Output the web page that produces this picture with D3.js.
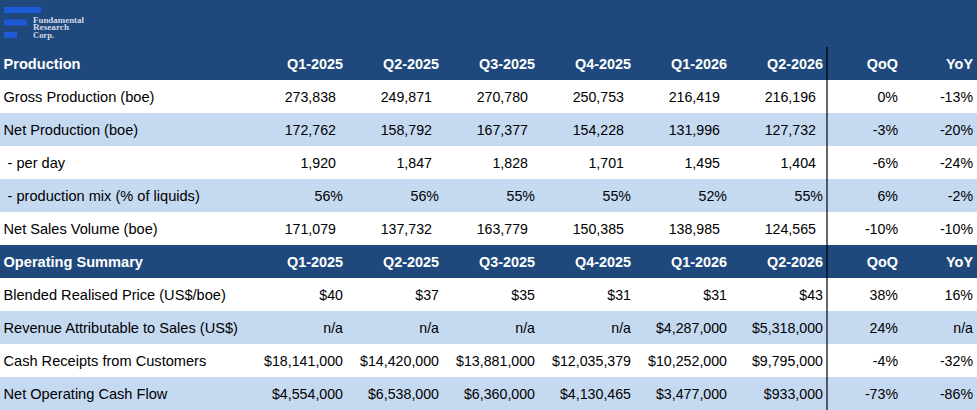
<!DOCTYPE html>
<html>
<head>
<meta charset="utf-8">
<script src="https://cdn.jsdelivr.net/npm/d3@7"></script>
<style>
  body { margin: 0; background: #fff; }
  svg { display: block; font-family: "Liberation Sans", Arial, sans-serif; }
</style>
</head>
<body>
<svg id="chart" width="977" height="410"></svg>
<script>
// column headers
var periods = ["Q1-2025", "Q2-2025", "Q3-2025", "Q4-2025", "Q1-2026", "Q2-2026"];
var changeCols = ["QoQ", "YoY"];

// production block
var productionLabels = [
  "Gross Production (boe)",
  "Net Production (boe)",
  " - per day",
  " - production mix (% of liquids)",
  "Net Sales Volume (boe)"
];
var grossProduction = ["273,838", "249,871", "270,780", "250,753", "216,419", "216,196", "0%", "-13%"];
var netProduction = ["172,762", "158,792", "167,377", "154,228", "131,996", "127,732", "-3%", "-20%"];
var perDay = ["1,920", "1,847", "1,828", "1,701", "1,495", "1,404", "-6%", "-24%"];
var productionMix = ["56%", "56%", "55%", "55%", "52%", "55%", "6%", "-2%"];
var netSalesVolume = ["171,079", "137,732", "163,779", "150,385", "138,985", "124,565", "-10%", "-10%"];

// operating summary block
var operatingLabels = [
  "Blended Realised Price (US$/boe)",
  "Revenue Attributable to Sales (US$)",
  "Cash Receipts from Customers",
  "Net Operating Cash Flow"
];
var blendedPrice = ["$40", "$37", "$35", "$31", "$31", "$43", "38%", "16%"];
var revenueSales = ["n/a", "n/a", "n/a", "n/a", "$4,287,000", "$5,318,000", "24%", "n/a"];
var cashReceipts = ["$18,141,000", "$14,420,000", "$13,881,000", "$12,035,379", "$10,252,000", "$9,795,000", "-4%", "-32%"];
var netOpCashFlow = ["$4,554,000", "$6,538,000", "$6,360,000", "$4,130,465", "$3,477,000", "$933,000", "-73%", "-86%"];

var W = 977, H = 410;
var dark = "#1f497d", light = "#c5d9f1";

// build the row list: header rows + data rows
var rows = [];
rows.push({ header: true, label: "Production" });
[grossProduction, netProduction, perDay, productionMix, netSalesVolume].forEach(function (v, i) {
  rows.push({ header: false, label: productionLabels[i], values: v, band: i % 2 == 1 });
});
rows.push({ header: true, label: "Operating Summary" });
[blendedPrice, revenueSales, cashReceipts, netOpCashFlow].forEach(function (v, i) {
  rows.push({ header: false, label: operatingLabels[i], values: v, band: i % 2 == 1 });
});

var svg = d3.select("#chart");

var y = d3.scaleBand().domain(d3.range(rows.length)).range([47, H]).padding(0);
var xPeriod = d3.scalePoint().domain(periods).range([343, 823]);
var xChange = d3.scalePoint().domain(changeCols).range([898, 973]);
var allCols = periods.concat(changeCols);
function colX(c) { return periods.indexOf(c) >= 0 ? xPeriod(c) : xChange(c); }
// plain counts (#,##0 format) sit a little left of the cell edge, like excel's "_)" padding
function pad(v) { return /^[\d,]+$/.test(v) ? 7 : 0; }

// top logo band
svg.append("rect").attr("x", 0).attr("y", 0).attr("width", W).attr("height", 47).attr("fill", dark);

var logo = svg.append("g");
var logoBars = [37, 23, 13];
logo.selectAll("rect").data(logoBars).enter().append("rect")
  .attr("x", 4).attr("y", function (d, i) { return 7 + i * 12.5; })
  .attr("width", function (d) { return d; }).attr("height", 6)
  .attr("fill", "#1f5ad6");
var logoWords = ["Fundamental", "Research", "Corp."];
var logoWidths = [51, 36, 21];
logo.selectAll("text").data(logoWords).enter().append("text")
  .attr("x", 33).attr("y", function (d, i) { return 22.6 + i * 7.8; })
  .attr("font-family", "'Liberation Serif', 'DejaVu Serif', serif")
  .attr("font-size", 8.4).attr("font-weight", "bold").attr("fill", "#d3d9e4")
  .attr("textLength", function (d, i) { return logoWidths[i]; })
  .attr("lengthAdjust", "spacingAndGlyphs")
  .text(function (d) { return d; });

// row backgrounds
svg.selectAll("rect.row").data(rows).enter().append("rect")
  .attr("class", "row")
  .attr("x", 0).attr("y", function (d, i) { return y(i); })
  .attr("width", W).attr("height", y.bandwidth() + 0.5)
  .attr("fill", function (d) { return d.header ? dark : (d.band ? light : "#fff"); });

// row labels
svg.selectAll("text.label").data(rows).enter().append("text")
  .attr("class", "label")
  .attr("x", 3.5)
  .attr("y", function (d, i) { return y(i) + y.bandwidth() / 2; })
  .attr("dy", "0.36em")
  .attr("font-size", 14.6)
  .attr("font-weight", function (d) { return d.header ? "bold" : "normal"; })
  .attr("fill", function (d) { return d.header ? "#fff" : "#000"; })
  .style("white-space", "pre")
  .text(function (d) { return d.label; });

// cell values
rows.forEach(function (r, i) {
  var cells = r.header ? allCols : r.values;
  svg.append("g").selectAll("text").data(cells).enter().append("text")
    .attr("x", function (d, j) { return colX(allCols[j]) - (r.header ? 0 : pad(d)); })
    .attr("y", y(i) + y.bandwidth() / 2)
    .attr("dy", "0.36em")
    .attr("text-anchor", "end")
    .attr("font-size", r.header ? 14.4 : 14.2)
    .attr("font-weight", r.header ? "bold" : "normal")
    .attr("fill", r.header ? "#fff" : "#000")
    .text(function (d) { return d; });
});

// divider between quarters and change columns
svg.append("line")
  .attr("x1", 827).attr("x2", 827)
  .attr("y1", 47).attr("y2", H)
  .attr("stroke", "#000").attr("stroke-width", 1.2);
</script>
</body>
</html>
